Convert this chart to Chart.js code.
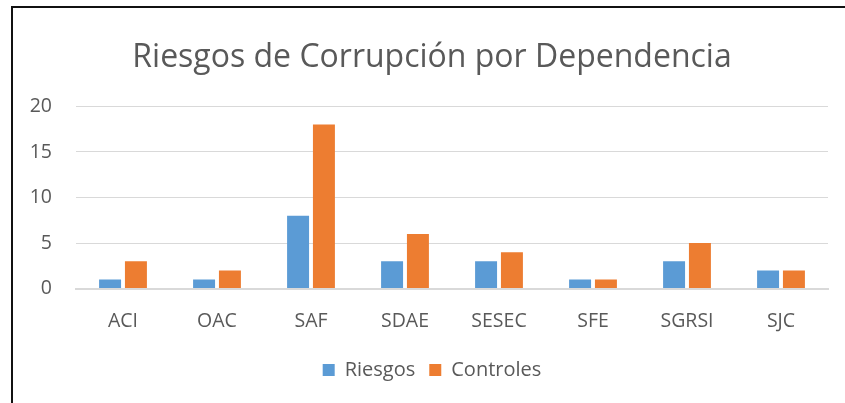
<!DOCTYPE html>
<html lang="es">
<head>
    <meta charset="UTF-8">
    <title>Riesgos de Corrupción por Dependencia</title>
    <script src="https://cdnjs.cloudflare.com/ajax/libs/Chart.js/4.4.0/chart.umd.min.js"></script>
    <style>
        html, body { margin: 0; padding: 0; background: #fff; }
        .marco {
            position: absolute;
            left: 11px;
            top: 6px;
            width: 845px;
            height: 403px;
            border-left: 2px solid #111;
            border-top: 2px solid #111;
        }
        #grafico { position: absolute; left: 0; top: 0; }
    </style>
</head>
<body>
    <div class="marco"></div>
    <canvas id="grafico" width="845" height="403"></canvas>

    <script>
        // Datos del gráfico
        const dependencias = ['ACI', 'OAC', 'SAF', 'SDAE', 'SESEC', 'SFE', 'SGRSI', 'SJC'];
        const riesgos = [1, 1, 8, 3, 3, 1, 3, 2];
        const controles = [3, 2, 18, 6, 4, 1, 5, 2];
        const ticksY = [0, 5, 10, 15, 20];

        const fuente = "'Open Sans', 'Noto Sans', sans-serif";
        const gris = '#595959';

        new Chart(document.getElementById('grafico').getContext('2d'), {
            type: 'bar',
            data: {
                labels: dependencias,
                datasets: [
                    { label: 'Riesgos', data: riesgos, backgroundColor: '#5B9BD5' },
                    { label: 'Controles', data: controles, backgroundColor: '#ED7D31' }
                ]
            },
            options: {
                responsive: false,
                animation: false,
                datasets: {
                    bar: { categoryPercentage: 0.55, barPercentage: 0.85 }
                },
                // derecha negativa + eje vacío a la derecha para centrar el título como en el original
                layout: { padding: { left: 11, right: -8, top: 33, bottom: 13 } },
                plugins: {
                    title: {
                        display: true,
                        text: 'Riesgos de Corrupción por Dependencia',
                        color: gris,
                        font: { family: fuente, size: 32, weight: 'normal' },
                        padding: { top: 6, bottom: 29 }
                    },
                    legend: {
                        position: 'bottom',
                        labels: {
                            color: gris,
                            boxWidth: 12,
                            boxHeight: 12,
                            padding: 14,
                            font: { family: fuente, size: 20 }
                        }
                    },
                    tooltip: { enabled: false }
                },
                scales: {
                    x: {
                        grid: { display: false },
                        border: { color: '#d9d9d9', width: 2 },
                        ticks: { color: gris, padding: 13, font: { family: fuente, size: 19.5 } }
                    },
                    y: {
                        min: 0,
                        max: 20,
                        afterBuildTicks: axis => { axis.ticks = ticksY.map(v => ({ value: v })); },
                        afterFit: axis => { axis.width = 65; },
                        grid: { color: '#d9d9d9', drawTicks: false },
                        border: { display: false },
                        ticks: { color: gris, padding: 24, font: { family: fuente, size: 19.5 } }
                    },
                    y2: {
                        position: 'right',
                        grid: { display: false },
                        border: { display: false },
                        ticks: { display: false },
                        afterFit: axis => { axis.width = 25; }
                    }
                }
            }
        });
    </script>
</body>
</html>
